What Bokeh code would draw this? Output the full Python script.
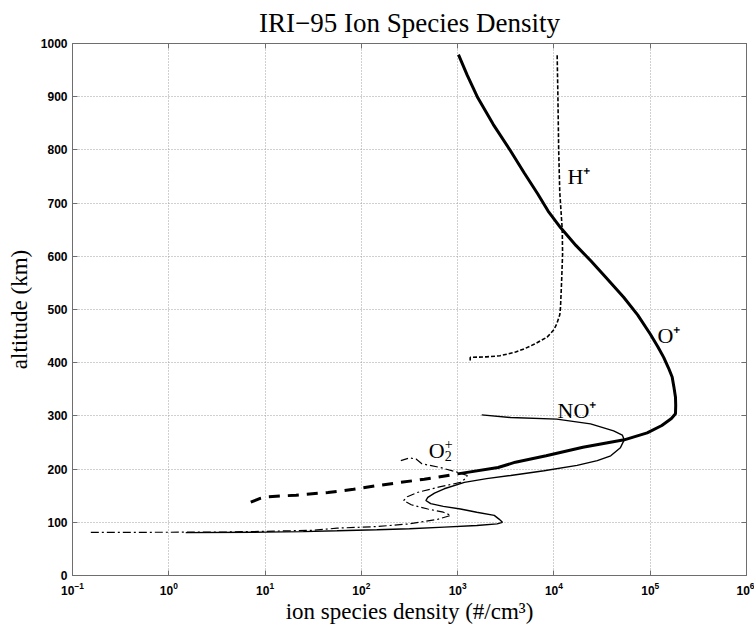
from bokeh.plotting import figure
from bokeh.models import FixedTicker, LogAxis, LinearAxis, Range1d, CustomJSTickFormatter
from bokeh.core.properties import value
from bokeh.embed import file_html
from bokeh.resources import INLINE

# ---------------- data ----------------
# O+ ion density (#/cm^3) versus altitude (km), bottom to top
O_PLUS_ALT = [138, 145, 148, 151, 156, 162, 170, 181, 191, 203, 213, 225, 241, 255,
              268, 282, 295, 304, 320, 335, 355, 373, 390, 410, 430, 454, 490, 523,
              560, 592, 620, 654, 685, 717, 757, 798, 848, 898, 940, 979]
O_PLUS_DENS = [7.1, 8.9, 10.5, 21, 45, 83, 160, 450, 1000, 2630, 3980, 8300, 20000,
               53700, 93000, 132000, 166000, 183000, 184000, 183000, 176000, 169000,
               155000, 138000, 120000, 100000, 74000, 53000, 34700, 24000, 17000,
               11700, 8700, 6800, 4900, 3550, 2340, 1620, 1260, 1020]
O_PLUS_DASHED_BELOW = 191  # lower part of the O+ profile is drawn dashed

# H+ ion density
H_PLUS_ALT = [404, 410, 411, 413, 420, 426, 435, 441, 448, 462, 473, 490, 504, 550,
              604, 650, 720, 800, 900, 980]
H_PLUS_DENS = [1350, 1350, 2000, 2750, 4000, 4900, 6300, 7200, 8500, 10000, 10700,
               11500, 11700, 12000, 12300, 12200, 11500, 11200, 11000, 10800]

# NO+ ion density
NO_PLUS_ALT = [80.5, 81.5, 82.5, 84, 86, 88, 91, 94, 97, 100, 106, 113, 119, 125,
               130, 135, 141, 147, 155, 163, 175, 182, 188, 197, 207, 216, 225, 240,
               255, 264, 272, 285, 294, 297, 302]
NO_PLUS_DENS = [1.5, 10, 25, 56, 145, 316, 725, 1580, 2570, 2920, 2690, 2400, 1580,
                1070, 710, 525, 468, 490, 575, 725, 1175, 2000, 3550, 7900, 17400,
                28200, 38900, 49000, 53700, 51300, 41700, 24000, 10700, 3550, 1780]

# O2+ ion density
O2_PLUS_ALT = [81, 81.5, 83, 85, 89, 92, 97, 106, 113, 119, 125, 133, 141, 148, 156,
               166, 175, 182, 188, 194, 203, 210, 219, 221, 216]
O2_PLUS_DENS = [0.155, 3.2, 10, 32, 56, 145, 316, 630, 850, 710, 490, 330, 275, 300,
                380, 630, 1070, 1200, 1260, 1000, 660, 425, 370, 316, 257]

X_TICKS = [1e-1, 1e0, 1e1, 1e2, 1e3, 1e4, 1e5, 1e6]
Y_TICKS = [0, 100, 200, 300, 400, 500, 600, 700, 800, 900, 1000]

LABEL_TEXT = ["H\u207a", "O\u207a", "NO\u207a", "O"]
LABEL_X = [1.38e4, 1.19e5, 1.09e4, 500]
LABEL_Y = [750, 451, 310, 235]

TITLE = "IRI\u221295 Ion Species Density"
X_LABEL = "ion species density (#/cm\u00b3)"
Y_LABEL = "altitude (km)"

# ---------------- figure ----------------
SERIF = "Liberation Serif"
SANS = "Liberation Sans"
AXIS_COLOR = "#6e6e6e"

p = figure(width=754, height=630, x_axis_type="log",
           x_range=Range1d(0.1, 1e6), y_range=Range1d(0, 1000),
           output_backend="svg", toolbar_location=None,
           min_border_left=72, min_border_right=8, min_border_top=43,
           min_border_bottom=55)

p.title.text = TITLE
p.title.text_font = SERIF
p.title.text_font_size = "27px"
p.title.text_font_style = "normal"
p.title.align = "center"
p.title.vertical_align = "top"
p.title.text_color = "black"
p.title.standoff = 8
p.title.offset = 0

p.outline_line_color = AXIS_COLOR
p.outline_line_width = 1
p.background_fill_color = "white"
p.border_fill_color = "white"

for ax in (p.xaxis[0], p.yaxis[0]):
    ax.axis_line_color = AXIS_COLOR
    ax.major_tick_line_color = AXIS_COLOR
    ax.major_tick_in = 5
    ax.major_tick_out = 0
    ax.minor_tick_line_color = None
    ax.major_label_text_font = SANS
    ax.major_label_text_font_style = "bold"
    ax.major_label_text_color = "black"
    ax.axis_label_text_font = SERIF
    ax.axis_label_text_font_size = "23px"
    ax.axis_label_text_font_style = "normal"
    ax.axis_label_text_color = "black"

p.xaxis[0].major_label_text_font_size = "12px"
p.yaxis[0].major_label_text_font_size = "12px"
p.xaxis[0].ticker = FixedTicker(ticks=X_TICKS)
p.yaxis[0].ticker = FixedTicker(ticks=Y_TICKS)
p.xaxis[0].axis_label = X_LABEL
p.yaxis[0].axis_label = Y_LABEL
p.xaxis[0].major_label_standoff = 6
p.xaxis[0].axis_label_standoff = 1
p.yaxis[0].major_label_standoff = 5
p.yaxis[0].axis_label_standoff = 6

# top and right axes: ticks only
top = LogAxis(ticker=FixedTicker(ticks=X_TICKS),
              formatter=CustomJSTickFormatter(code="return ''"))
right = LinearAxis(ticker=FixedTicker(ticks=Y_TICKS),
                   formatter=CustomJSTickFormatter(code="return ''"))
for ax in (top, right):
    ax.axis_line_color = AXIS_COLOR
    ax.major_tick_line_color = AXIS_COLOR
    ax.major_tick_in = 5
    ax.major_tick_out = 0
    ax.minor_tick_line_color = None
    ax.major_label_text_font_size = "2px"
    ax.major_label_standoff = 0
p.add_layout(top, "above")
p.add_layout(right, "right")

p.xgrid.ticker = FixedTicker(ticks=X_TICKS)
p.ygrid.ticker = FixedTicker(ticks=Y_TICKS)
for g in (p.xgrid[0], p.ygrid[0]):
    g.grid_line_color = "#a0a0a0"
    g.grid_line_dash = "1 2"
    g.grid_line_width = 1

# ---------------- curves ----------------
n_low = sum(1 for a in O_PLUS_ALT if a <= O_PLUS_DASHED_BELOW)
p.line(O_PLUS_DENS[:n_low], O_PLUS_ALT[:n_low], line_color="black",
       line_width=3, line_dash="11 8")
p.line(O_PLUS_DENS[n_low - 1:], O_PLUS_ALT[n_low - 1:], line_color="black",
       line_width=3)
p.line(H_PLUS_DENS, H_PLUS_ALT, line_color="black", line_width=1.6,
       line_dash="4 2")
p.line(NO_PLUS_DENS, NO_PLUS_ALT, line_color="black", line_width=1.4)
p.line(O2_PLUS_DENS, O2_PLUS_ALT, line_color="black", line_width=1.2,
       line_dash="8 3 2 3")

# ---------------- species labels ----------------
p.text(LABEL_X, LABEL_Y, text=LABEL_TEXT, text_font=value(SERIF),
       text_font_size="22px", text_align="left", text_baseline="middle",
       text_color="black")
# stacked "+" over subscript "2" for O2+
p.text([LABEL_X[3]], [LABEL_Y[3]], text=["+"], text_font=value(SERIF),
       text_font_size="14px", text_align="left", text_baseline="middle",
       x_offset=16, y_offset=-6, text_color="black")
p.text([LABEL_X[3]], [LABEL_Y[3]], text=["2"], text_font=value(SERIF),
       text_font_size="14px", text_align="left", text_baseline="middle",
       x_offset=16, y_offset=6, text_color="black")

open("out.html", "w").write(file_html(p, INLINE))
